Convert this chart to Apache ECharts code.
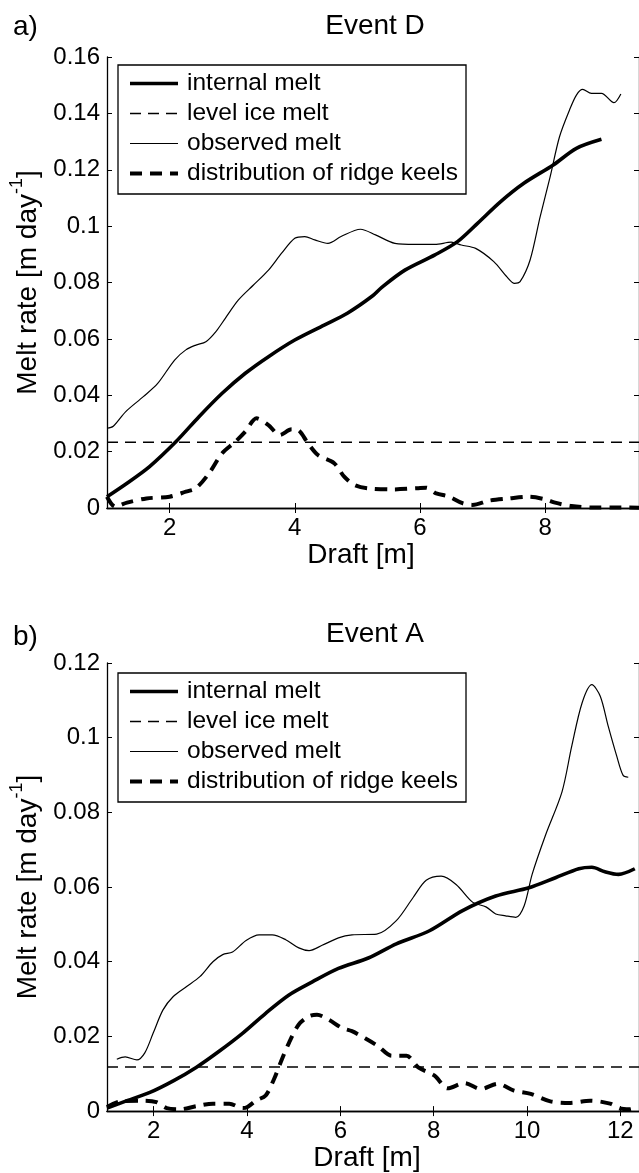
<!DOCTYPE html>
<html>
<head>
<meta charset="utf-8">
<title>Melt rate vs draft</title>
<script src="https://cdn.jsdelivr.net/npm/echarts@6/dist/echarts.min.js"></script>
<style>
  html, body { margin: 0; padding: 0; background: #fff; }
  #chart { width: 639px; height: 1173px; }
</style>
</head>
<body>
<div id="chart"></div>
<script>
// ---- Event D (panel a) ----
const draftInternalD = [1.0, 1.32, 1.68, 2.1, 2.47, 2.84, 3.21, 3.58, 4.0, 4.47, 4.84, 5.24, 5.39, 5.76, 6.24, 6.6, 6.92, 7.29, 7.66, 8.13, 8.5, 8.9];
const meltInternalD = [0.004, 0.0088, 0.0147, 0.0235, 0.0324, 0.0407, 0.0478, 0.0537, 0.0596, 0.0649, 0.0691, 0.0752, 0.0783, 0.0844, 0.0898, 0.0945, 0.101, 0.1087, 0.1152, 0.1217, 0.1276, 0.1308];

const draftObservedD = [1.0, 1.1, 1.3, 1.58, 1.81, 2.08, 2.26, 2.42, 2.58, 2.74, 2.89, 3.1, 3.34, 3.58, 3.79, 4.0, 4.16, 4.32, 4.53, 4.74, 5.05, 5.29, 5.6, 5.92, 6.24, 6.5, 6.66, 6.89, 7.18, 7.39, 7.51, 7.6, 7.76, 7.92, 8.08, 8.23, 8.39, 8.5, 8.6, 8.74, 8.9, 9.1, 9.21];
const meltObservedD = [0.0283, 0.029, 0.0342, 0.0395, 0.0442, 0.0525, 0.0561, 0.0578, 0.059, 0.0626, 0.0673, 0.0738, 0.0791, 0.0844, 0.0904, 0.0957, 0.0963, 0.0951, 0.0939, 0.0963, 0.0989, 0.0969, 0.0939, 0.0935, 0.0935, 0.0943, 0.0933, 0.0921, 0.0874, 0.082, 0.0797, 0.0803, 0.088, 0.1033, 0.1175, 0.1317, 0.1412, 0.1465, 0.1485, 0.1471, 0.1471, 0.1438, 0.1469];

const draftKeelsD = [1.0, 1.13, 1.32, 1.63, 2.0, 2.26, 2.42, 2.63, 2.84, 3.05, 3.21, 3.39, 3.58, 3.76, 3.95, 4.05, 4.21, 4.37, 4.63, 4.79, 4.95, 5.16, 5.58, 5.95, 6.1, 6.26, 6.47, 6.68, 6.84, 7.1, 7.42, 7.74, 8.0, 8.16, 8.42, 8.74, 9.1, 9.5];
const meltKeelsD = [0.004, 0.0005, 0.0019, 0.0034, 0.004, 0.0058, 0.007, 0.0123, 0.0194, 0.0235, 0.0271, 0.0318, 0.0294, 0.0259, 0.0279, 0.0277, 0.023, 0.0188, 0.0159, 0.0111, 0.0082, 0.007, 0.0066, 0.007, 0.0072, 0.0052, 0.004, 0.0017, 0.0011, 0.0026, 0.0034, 0.004, 0.0031, 0.0019, 0.0007, 0.0002, 0.0002, 0.0001];

const levelMeltD = 0.0233;
const draftRangeD = [1, 9.5];
const meltTicksD = [0, 0.02, 0.04, 0.06, 0.08, 0.1, 0.12, 0.14, 0.16];
const draftTicksD = [2, 4, 6, 8];

// ---- Event A (panel b) ----
const draftInternalA = [1.0, 1.43, 1.92, 2.42, 2.91, 3.41, 3.91, 4.4, 4.9, 5.4, 5.96, 6.6, 7.2, 7.91, 8.62, 9.33, 10.04, 10.61, 11.11, 11.39, 11.67, 11.96, 12.31];
const meltInternalA = [0.0008, 0.0028, 0.005, 0.0081, 0.0117, 0.0161, 0.0209, 0.0262, 0.0311, 0.0346, 0.0382, 0.041, 0.0448, 0.0483, 0.0537, 0.0576, 0.0598, 0.0625, 0.0649, 0.0653, 0.0641, 0.0634, 0.0649];

const draftObservedA = [1.21, 1.39, 1.64, 1.81, 1.99, 2.2, 2.42, 2.7, 2.99, 3.27, 3.48, 3.69, 3.98, 4.26, 4.54, 4.83, 5.11, 5.33, 5.61, 5.96, 6.25, 6.78, 7.2, 7.56, 7.84, 8.16, 8.48, 8.84, 9.12, 9.33, 9.54, 9.76, 9.94, 10.11, 10.4, 10.75, 10.96, 11.18, 11.39, 11.57, 11.74, 11.92, 12.06, 12.17];
const meltObservedA = [0.0139, 0.0145, 0.0137, 0.0156, 0.0209, 0.0271, 0.0307, 0.0333, 0.036, 0.04, 0.0419, 0.0426, 0.0457, 0.0472, 0.0472, 0.0459, 0.0437, 0.043, 0.0444, 0.0464, 0.0472, 0.0474, 0.051, 0.0572, 0.0618, 0.0629, 0.0607, 0.0559, 0.0547, 0.0528, 0.0523, 0.0519, 0.055, 0.0634, 0.074, 0.0855, 0.0978, 0.1093, 0.1142, 0.1111, 0.1031, 0.0952, 0.0899, 0.0894];

const draftKeelsA = [1.0, 1.28, 1.78, 2.06, 2.28, 2.56, 2.91, 3.27, 3.62, 3.91, 4.01, 4.19, 4.4, 4.58, 4.72, 4.9, 5.11, 5.33, 5.5, 5.75, 6.03, 6.25, 6.53, 6.81, 7.1, 7.42, 7.67, 8.02, 8.3, 8.66, 9.01, 9.37, 9.72, 10.08, 10.5, 10.93, 11.35, 11.78, 11.99, 12.2, 12.35];
const meltKeelsA = [0.0011, 0.0026, 0.0028, 0.0024, 0.0008, 0.0005, 0.0013, 0.002, 0.002, 0.0008, 0.0011, 0.0028, 0.0042, 0.0086, 0.013, 0.0183, 0.0232, 0.0254, 0.0258, 0.0245, 0.0223, 0.0214, 0.0195, 0.0174, 0.0148, 0.0148, 0.0117, 0.0095, 0.0061, 0.0075, 0.0059, 0.0073, 0.0055, 0.0046, 0.0026, 0.0022, 0.0028, 0.002, 0.0007, 0.0005, 0.001];

const levelMeltA = 0.0118;
const draftRangeA = [1, 12.4];
const meltTicksA = [0, 0.02, 0.04, 0.06, 0.08, 0.1, 0.12];
const draftTicksA = [2, 4, 6, 8, 10, 12];

const seriesNames = ['internal melt', 'level ice melt', 'observed melt', 'distribution of ridge keels'];

const FONT = '"Liberation Sans", Arial, Helvetica, sans-serif';

// line look of each quantity, shared by plot and legend
const styles = {
  'internal melt': { width: 3.6, type: 'solid' },
  'level ice melt': { width: 1.5, type: [11, 7] },
  'observed melt': { width: 1.2, type: 'solid' },
  'distribution of ridge keels': { width: 4, type: [12, 8] }
};

function pairs(xs, ys) {
  return xs.map((x, i) => [x, ys[i]]);
}

const chartDiv = document.getElementById('chart');
const chart = echarts.init(chartDiv, null, { renderer: 'canvas' });

const panels = [
  {
    grid: { left: 107, top: 57, width: 538, height: 451 },
    range: draftRangeD, yMax: 0.16, yTicks: meltTicksD, xTicks: draftTicksD,
    internal: pairs(draftInternalD, meltInternalD),
    observed: pairs(draftObservedD, meltObservedD),
    keels: pairs(draftKeelsD, meltKeelsD),
    level: levelMeltD,
    legendTop: 65,
    xNamePad: 24
  },
  {
    grid: { left: 107, top: 663, width: 536, height: 453 },
    range: draftRangeA, yMax: 0.12, yTicks: meltTicksA, xTicks: draftTicksA,
    internal: pairs(draftInternalA, meltInternalA),
    observed: pairs(draftObservedA, meltObservedA),
    keels: pairs(draftKeelsA, meltKeelsA),
    level: levelMeltA,
    legendTop: 673,
    xNamePad: 12
  }
];

const grids = [], xAxes = [], yAxes = [], series = [], legends = [];

panels.forEach((p, k) => {
  grids.push(p.grid);

  const axisLine = { show: true, lineStyle: { color: '#000', width: 1.3 } };
  const tick = { show: true, inside: true, length: 5, lineStyle: { color: '#000', width: 1 } };
  const label = { color: '#000', fontFamily: FONT, fontSize: 24 };

  xAxes.push({
    type: 'value', gridIndex: k, position: 'bottom',
    min: p.range[0], max: p.range[1],
    axisLine: axisLine,
    axisTick: Object.assign({ customValues: p.xTicks }, tick),
    axisLabel: Object.assign({ customValues: p.xTicks, margin: 8, formatter: v => String(v) }, label),
    splitLine: { show: false },
    name: 'Draft [m]', nameLocation: 'middle', nameGap: 28,
    nameTextStyle: { color: '#000', fontFamily: FONT, fontSize: 28, padding: [0, p.xNamePad, 0, 0] }
  });
  xAxes.push({
    type: 'value', gridIndex: k, position: 'top',
    min: p.range[0], max: p.range[1],
    axisLine: axisLine,
    axisTick: Object.assign({ customValues: p.xTicks }, tick),
    axisLabel: { show: false },
    splitLine: { show: false }
  });

  yAxes.push({
    type: 'value', gridIndex: k, position: 'left',
    min: 0, max: p.yMax, interval: 0.02,
    axisLine: axisLine, axisTick: tick,
    axisLabel: Object.assign({ margin: 7, formatter: v => String(+v.toFixed(2)) }, label),
    splitLine: { show: false },
    name: '{n|Melt rate [m day}{s|-1}{n|]}', nameLocation: 'middle', nameGap: 62,
    nameTextStyle: {
      rich: {
        n: { fontFamily: FONT, fontSize: 28, color: '#000', lineHeight: 34, verticalAlign: 'bottom' },
        s: { fontFamily: FONT, fontSize: 18, color: '#000', lineHeight: 18, verticalAlign: 'top' }
      }
    }
  });
  yAxes.push({
    type: 'value', gridIndex: k, position: 'right',
    min: 0, max: p.yMax, interval: 0.02,
    axisLine: axisLine, axisTick: tick,
    axisLabel: { show: false },
    splitLine: { show: false }
  });

  const xi = k * 2, yi = k * 2;
  const base = { type: 'line', xAxisIndex: xi, yAxisIndex: yi, symbol: 'none', animation: false, clip: true };

  series.push(Object.assign({}, base, {
    name: 'level ice melt',
    data: [[p.range[0], p.level], [p.range[1], p.level]],
    lineStyle: { color: '#000', width: styles['level ice melt'].width, type: styles['level ice melt'].type }
  }));
  series.push(Object.assign({}, base, {
    name: 'distribution of ridge keels', smooth: 0.3,
    data: p.keels,
    lineStyle: { color: '#000', width: styles['distribution of ridge keels'].width, type: styles['distribution of ridge keels'].type }
  }));
  series.push(Object.assign({}, base, {
    name: 'observed melt', smooth: 0.3,
    data: p.observed,
    lineStyle: { color: '#000', width: styles['observed melt'].width }
  }));
  series.push(Object.assign({}, base, {
    name: 'internal melt', smooth: 0.3,
    data: p.internal,
    lineStyle: { color: '#000', width: styles['internal melt'].width }
  }));

  legends.push({
    orient: 'vertical', left: 118, top: p.legendTop,
    padding: [6, 8, 8, 10],
    itemWidth: 48, itemHeight: 24, itemGap: 5,
    backgroundColor: '#fff', borderColor: '#000', borderWidth: 1.3, borderRadius: 0,
    selectedMode: false,
    textStyle: { fontFamily: FONT, fontSize: 24.5, color: '#000', lineHeight: 24, padding: [0, 0, 0, 4] },
    data: seriesNames.map(n => ({
      name: n,
      lineStyle: { color: '#000', width: styles[n].width, type: styles[n].type },
      // hide the marker that line legends draw by default
      itemStyle: { color: 'rgba(0,0,0,0)', borderColor: 'rgba(0,0,0,0)', borderWidth: 0, opacity: 0 }
    }))
  });
});

const titleStyle = { color: '#000', fontFamily: FONT, fontSize: 28, fontWeight: 'normal' };

chart.setOption({
  animation: false,
  backgroundColor: '#fff',
  title: [
    { text: 'Event D', left: 375, top: 12, textAlign: 'center', padding: 0, textStyle: titleStyle },
    { text: 'Event A', left: 375, top: 620, textAlign: 'center', padding: 0, textStyle: titleStyle },
    { text: 'a)', left: 13, top: 13, padding: 0, textStyle: titleStyle },
    { text: 'b)', left: 13, top: 623, padding: 0, textStyle: titleStyle }
  ],
  legend: legends,
  grid: grids,
  xAxis: xAxes,
  yAxis: yAxes,
  series: series
});

window.addEventListener('resize', () => chart.resize());
</script>
</body>
</html>
